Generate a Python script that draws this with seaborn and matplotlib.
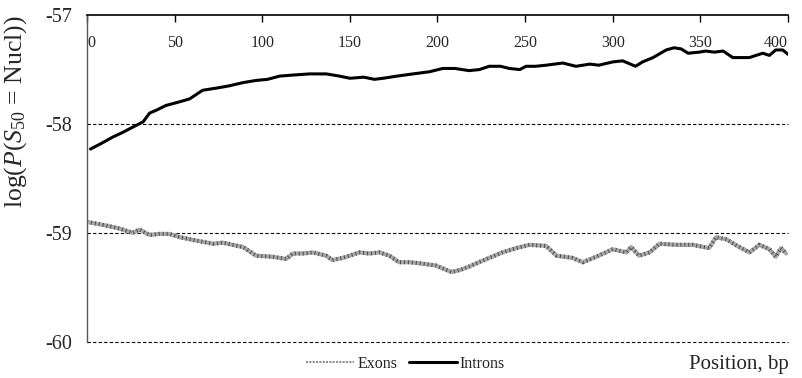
import numpy as np
import pandas as pd
import matplotlib
matplotlib.use("Agg")
import matplotlib.pyplot as plt
from matplotlib.lines import Line2D
import seaborn as sns

# ---- data ----
intron_x = [2, 8, 14.7, 20, 26, 32, 35.7, 40, 45, 52, 58.5, 66, 74, 81, 89, 96.5, 103, 110,
            118, 127, 136.5, 144, 150, 158, 164, 169, 177, 186, 195.5, 203, 210, 218, 224,
            229.5, 236, 241, 247, 250.5, 256, 262, 271.5, 279, 287, 292, 300, 305.7, 313,
            317, 323, 330.5, 335, 339, 343, 349.5, 353, 358, 363, 368.5, 373, 378, 385.6,
            389.4, 393, 397, 400]
intron_y = [-58.23, -58.18, -58.12, -58.08, -58.03, -57.98, -57.90, -57.87, -57.83, -57.80,
            -57.77, -57.69, -57.67, -57.65, -57.62, -57.60, -57.59, -57.56, -57.55, -57.54,
            -57.54, -57.56, -57.58, -57.57, -57.59, -57.58, -57.56, -57.54, -57.52, -57.49,
            -57.49, -57.51, -57.50, -57.47, -57.47, -57.49, -57.50, -57.47, -57.47, -57.46,
            -57.44, -57.47, -57.45, -57.46, -57.43, -57.42, -57.47, -57.43, -57.39, -57.32,
            -57.30, -57.31, -57.35, -57.34, -57.33, -57.34, -57.33, -57.39, -57.39, -57.39,
            -57.35, -57.37, -57.32, -57.32, -57.36]

exon_x = [0, 7, 13, 18.5, 26, 30, 35.7, 41, 47, 53, 62, 72, 77.5, 83, 89, 96.5, 106, 113.7,
          117.5, 123, 129, 136.5, 140, 146, 155.5, 161, 167, 172.6, 178, 184, 190, 199, 208,
          213, 218, 228, 237, 245, 252.5, 262, 268, 277, 283, 290.5, 296, 300, 307.7, 310.5,
          315, 321, 326.7, 336, 345.7, 355, 359, 365, 370, 378, 383.7, 389.4, 393, 396, 399]
exon_y = [-58.90, -58.92, -58.94, -58.96, -59.00, -58.97, -59.02, -59.01, -59.01, -59.04,
          -59.07, -59.10, -59.09, -59.11, -59.13, -59.21, -59.22, -59.24, -59.19, -59.19,
          -59.18, -59.21, -59.25, -59.23, -59.18, -59.19, -59.18, -59.21, -59.27, -59.27,
          -59.28, -59.30, -59.36, -59.34, -59.31, -59.24, -59.18, -59.14, -59.11, -59.12,
          -59.21, -59.23, -59.27, -59.22, -59.18, -59.15, -59.18, -59.13, -59.21, -59.18,
          -59.10, -59.11, -59.11, -59.14, -59.04, -59.06, -59.11, -59.18, -59.11, -59.15,
          -59.22, -59.14, -59.19]

x_ticks = [0, 50, 100, 150, 200, 250, 300, 350, 400]
y_ticks = [-60, -59, -58, -57]
grid_levels = [-60, -59, -58]

# ---- style ----
sns.set_theme(style="white")
plt.rcParams['font.family'] = ['Liberation Serif', 'DejaVu Serif']
plt.rcParams['mathtext.fontset'] = 'custom'
plt.rcParams['mathtext.rm'] = 'Liberation Serif'
plt.rcParams['mathtext.it'] = 'Liberation Serif:italic'

fig = plt.figure(figsize=(8.02, 3.78), dpi=100)
ax = fig.add_axes([0.1085, 0.096, 0.874, 0.864])

df_i = pd.DataFrame({"Position": intron_x, "value": intron_y})
df_e = pd.DataFrame({"Position": exon_x, "value": exon_y})

for g in grid_levels:
    ax.axhline(g, color='black', lw=0.8, ls=(0, (3, 2)), zorder=1, clip_on=False)

sns.lineplot(data=df_e, x="Position", y="value", ax=ax, color='#a8a8a8', lw=3.0, zorder=3)
sns.lineplot(data=df_e, x="Position", y="value", ax=ax, color='#505050', lw=3.0,
             ls=(0, (0.25, 0.7)), zorder=4)
sns.lineplot(data=df_i, x="Position", y="value", ax=ax, color='black', lw=2.2, zorder=5)

ax.set_xlim(0, 400)
ax.set_ylim(-60, -57)
ax.set_xlabel("")
ax.set_ylabel(r'log($\mathit{P}$($\mathit{S}_{50}$ = Nucl))', fontsize=18.5)
ax.yaxis.set_label_coords(-0.083, 0.703)

ax.xaxis.tick_top()
ax.set_xticks(x_ticks)
ax.set_xticklabels([str(t) for t in x_ticks])
ax.tick_params(axis='x', top=True, bottom=False, direction='in', length=5, width=1,
               color='black', pad=-26, labelsize=11.5)
labs = ax.get_xticklabels()
labs[0].set_ha('left')
labs[-1].set_ha('right')

ax.set_yticks(y_ticks)
ax.set_yticklabels([str(t) for t in y_ticks])
ax.tick_params(axis='y', left=False, length=0, labelsize=14.5, pad=11)

for side in ['bottom', 'right']:
    ax.spines[side].set_visible(False)
ax.spines['top'].set_color('black')
ax.spines['top'].set_linewidth(1.2)
ax.spines['left'].set_color('#555555')
ax.spines['left'].set_linewidth(1.0)

handles = [Line2D([], [], color='#909090', lw=1.5, ls=(0, (1, 0.6))),
           Line2D([], [], color='black', lw=2.2)]
fig.legend(handles, ['Exons', 'Introns'], loc='center', bbox_to_anchor=(0.506, 0.037),
           ncol=2, frameon=False, fontsize=11.5, handlelength=3.0, handletextpad=0.2,
           columnspacing=0.7)
fig.text(0.983, 0.037, 'Position, bp', ha='right', va='center', fontsize=15)

fig.savefig('out.png', dpi=100)
